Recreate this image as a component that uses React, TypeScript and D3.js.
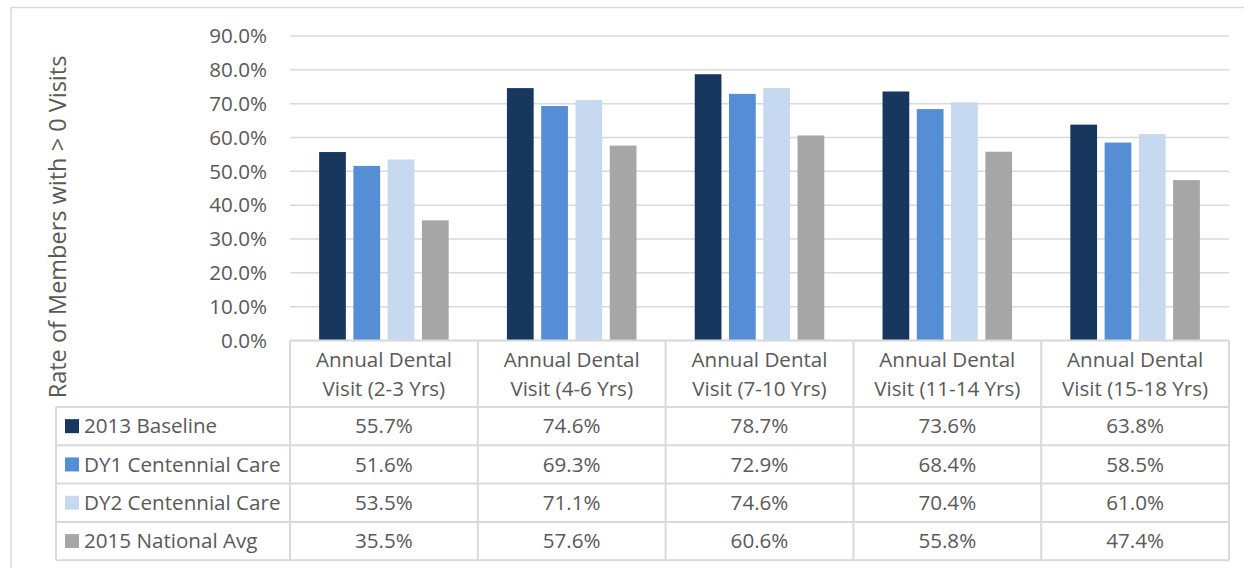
import React, { useEffect, useRef } from 'react';
import * as d3 from 'd3';

const categories = [
  ['Annual Dental', 'Visit (2-3 Yrs)'],
  ['Annual Dental', 'Visit (4-6 Yrs)'],
  ['Annual Dental', 'Visit (7-10 Yrs)'],
  ['Annual Dental', 'Visit (11-14 Yrs)'],
  ['Annual Dental', 'Visit (15-18 Yrs)'],
];
const seriesNames = ['2013 Baseline', 'DY1 Centennial Care', 'DY2 Centennial Care', '2015 National Avg'];
const seriesColors = ['#17375e', '#558ed5', '#c6d9f1', '#a6a6a6'];

const baseline2013 = [55.7, 74.6, 78.7, 73.6, 63.8];
const dy1 = [51.6, 69.3, 72.9, 68.4, 58.5];
const dy2 = [53.5, 71.1, 74.6, 70.4, 61.0];
const national2015 = [35.5, 57.6, 60.6, 55.8, 47.4];
const seriesValues = [baseline2013, dy1, dy2, national2015];

const yTicks = [0, 10, 20, 30, 40, 50, 60, 70, 80, 90];

export default function App() {
  const svgRef = useRef<SVGSVGElement>(null);

  useEffect(() => {
    if (!svgRef.current) return;
    const svg = d3.select(svgRef.current);
    svg.selectAll('*').remove();

    const width = 1254;
    const height = 568;
    const font = "'Open Sans', 'Noto Sans', sans-serif";
    const fontSize = '20.6px';
    const textColor = '#595959';
    const lineColor = '#d9d9d9';

    svg.attr('width', width).attr('height', height);

    // chart border (left + top visible)
    svg.append('path')
      .attr('d', 'M11,568 L11,7.5 L1244,7.5')
      .attr('fill', 'none')
      .attr('stroke', lineColor)
      .attr('stroke-width', 1.5);

    const plotLeft = 290;
    const plotRight = 1229;
    const plotTop = 36;
    const plotBottom = 340.5;

    const x0 = d3.scaleBand<number>()
      .domain(d3.range(categories.length))
      .range([plotLeft, plotRight]);
    const x1 = d3.scaleBand<number>()
      .domain(d3.range(seriesNames.length))
      .range([0, x0.bandwidth()])
      .paddingInner(0.22)
      .paddingOuter(0.85);
    const y = d3.scaleLinear().domain([0, 90]).range([plotBottom, plotTop]);

    // gridlines
    svg.append('g')
      .selectAll('line')
      .data(yTicks)
      .enter().append('line')
      .attr('x1', plotLeft)
      .attr('x2', plotRight)
      .attr('y1', (d) => y(d))
      .attr('y2', (d) => y(d))
      .attr('stroke', lineColor)
      .attr('stroke-width', 1.5);

    // tick labels
    svg.append('g')
      .selectAll('text')
      .data(yTicks)
      .enter().append('text')
      .attr('x', 267)
      .attr('y', (d) => y(d))
      .attr('dy', '0.35em')
      .attr('text-anchor', 'end')
      .style('font-family', font)
      .style('font-size', fontSize)
      .attr('fill', textColor)
      .text((d) => d.toFixed(1) + '%');

    // bars
    seriesValues.forEach((vals, si) => {
      svg.append('g')
        .selectAll('rect')
        .data(vals)
        .enter().append('rect')
        .attr('x', (_d, i) => (x0(i) as number) + (x1(si) as number))
        .attr('y', (d) => y(d))
        .attr('width', x1.bandwidth())
        .attr('height', (d) => plotBottom - y(d))
        .attr('fill', seriesColors[si]);
    });

    // data table
    const tableLeft = 56;
    const headerTop = plotBottom;
    const rowTop = 407;
    const rowH = 38.3;
    const tableBottom = rowTop + rowH * seriesNames.length;
    const table = svg.append('g');

    // horizontal lines
    table.append('line')
      .attr('x1', plotLeft).attr('x2', plotRight)
      .attr('y1', headerTop).attr('y2', headerTop)
      .attr('stroke', lineColor).attr('stroke-width', 2);
    d3.range(seriesNames.length + 1).forEach((r) => {
      const yy = rowTop + r * rowH;
      table.append('line')
        .attr('x1', tableLeft).attr('x2', plotRight)
        .attr('y1', yy).attr('y2', yy)
        .attr('stroke', lineColor).attr('stroke-width', 2);
    });
    // vertical lines
    table.append('line')
      .attr('x1', tableLeft).attr('x2', tableLeft)
      .attr('y1', rowTop).attr('y2', tableBottom)
      .attr('stroke', lineColor).attr('stroke-width', 2);
    d3.range(categories.length + 1).forEach((c) => {
      const xx = plotLeft + c * x0.step();
      table.append('line')
        .attr('x1', xx).attr('x2', xx)
        .attr('y1', headerTop).attr('y2', tableBottom)
        .attr('stroke', lineColor).attr('stroke-width', 2);
    });

    // header labels
    categories.forEach((lines, i) => {
      const cx = (x0(i) as number) + x0.bandwidth() / 2;
      lines.forEach((ln, li) => {
        table.append('text')
          .attr('x', cx)
          .attr('y', 360 + li * 28.5)
          .attr('dy', '0.35em')
          .attr('text-anchor', 'middle')
          .style('font-family', font)
          .style('font-size', fontSize)
          .attr('fill', textColor)
          .text(ln);
      });
    });

    // rows
    seriesNames.forEach((name, si) => {
      const cy = rowTop + si * rowH + rowH / 2;
      table.append('rect')
        .attr('x', 65).attr('y', cy - 7)
        .attr('width', 14).attr('height', 14)
        .attr('fill', seriesColors[si]);
      table.append('text')
        .attr('x', 84)
        .attr('y', cy)
        .attr('dy', '0.35em')
        .style('font-family', font)
        .style('font-size', fontSize)
        .attr('fill', textColor)
        .text(name);
      seriesValues[si].forEach((v, i) => {
        table.append('text')
          .attr('x', (x0(i) as number) + x0.bandwidth() / 2)
          .attr('y', cy)
          .attr('dy', '0.35em')
          .attr('text-anchor', 'middle')
          .style('font-family', font)
          .style('font-size', fontSize)
          .attr('fill', textColor)
          .text(v.toFixed(1) + '%');
      });
    });

    // y axis title
    svg.append('text')
      .attr('transform', 'translate(58,227) rotate(-90)')
      .attr('text-anchor', 'middle')
      .attr('dy', '0.35em')
      .style('font-family', font)
      .style('font-size', '23.5px')
      .attr('fill', textColor)
      .text('Rate of Members with > 0 Visits');
  }, []);

  return (
    <div style={{ position: 'absolute', left: 0, top: 0, background: '#fff' }}>
      <svg ref={svgRef} style={{ display: 'block' }}></svg>
    </div>
  );
}
